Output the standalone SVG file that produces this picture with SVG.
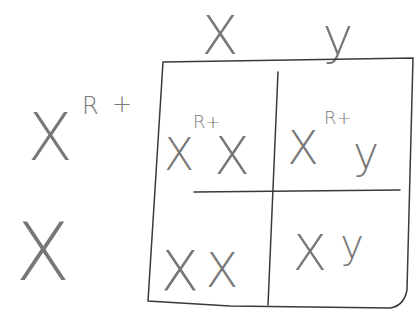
<svg xmlns="http://www.w3.org/2000/svg" width="414" height="335" viewBox="0 0 414 335">
<style>
.t{font-family:"DejaVu Sans","Liberation Sans",sans-serif;font-weight:200;fill:#777}
.g{fill:none;stroke:#3a3a3a;stroke-width:1.5;stroke-linecap:round}
</style>
<rect width="414" height="335" fill="#fff"/>
<g id="headers">
<text class="t" x="220" y="54" font-size="54" text-anchor="middle">X</text>
<text class="t" x="338" y="54" font-size="52" text-anchor="middle">y</text>
</g>
<g id="row-labels">
<text class="t" x="50" y="160" font-size="66" text-anchor="middle">X</text>
<text class="t" x="82" y="114" font-size="24">R</text>
<text class="t" x="112" y="112" font-size="24">+</text>
<text class="t" x="43" y="280" font-size="80" text-anchor="middle">X</text>
</g>
<g id="grid">
<path class="g" d="M163,62 L290,60 L413,58 L407,290 Q404,306 390,308 L230,306 L148,301 L163,62"/>
<path class="g" d="M278,72 L268,305"/>
<path class="g" d="M194,192 L400,190"/>
</g>
<g id="cell-1">
<text class="t" x="179" y="170" font-size="44" text-anchor="middle">X</text>
<text class="t" x="193" y="128" font-size="18">R+</text>
<text class="t" x="232" y="174" font-size="52" text-anchor="middle">X</text>
</g>
<g id="cell-2">
<text class="t" x="303" y="164" font-size="46" text-anchor="middle">X</text>
<text class="t" x="324" y="124" font-size="18">R+</text>
<text class="t" x="366" y="168" font-size="44" text-anchor="middle">y</text>
</g>
<g id="cell-3">
<text class="t" x="180" y="290" font-size="56" text-anchor="middle">X</text>
<text class="t" x="222" y="287" font-size="48" text-anchor="middle">X</text>
</g>
<g id="cell-4">
<text class="t" x="310" y="270" font-size="50" text-anchor="middle">X</text>
<text class="t" x="352" y="258" font-size="40" text-anchor="middle">y</text>
</g>
</svg>
